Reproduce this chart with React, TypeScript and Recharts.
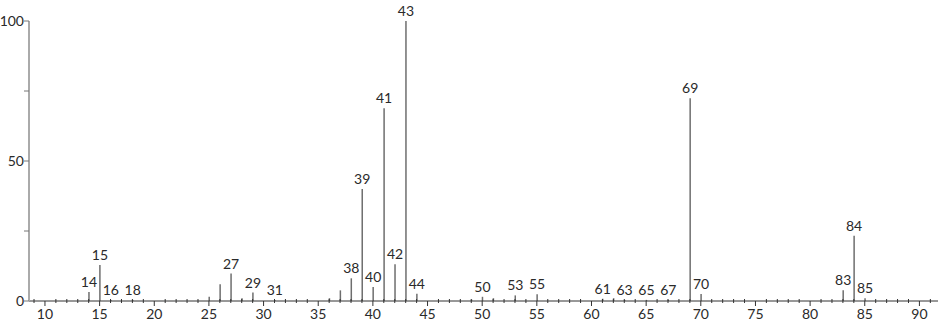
import { ComposedChart, Bar, XAxis, YAxis, LabelList } from "recharts";

// m/z values and relative intensities
const mzValues = [
  14, 15, 16, 18, 25, 26, 27, 28, 29, 31, 36, 37, 38, 39, 40, 41, 42, 43, 44,
  49, 50, 51, 53, 55, 61, 62, 63, 65, 67, 69, 70, 83, 84, 85,
];
const intensities = [
  3.2, 12.9, 0.4, 0.4, 1.5, 6, 9.8, 1, 3, 0.4, 1, 3.8, 8.1, 40, 5, 68.8, 13.1,
  100, 2.6, 0.5, 1.5, 1, 2, 2.4, 0.8, 1, 0.4, 0.4, 0.4, 72.4, 2.5, 3.8, 23.3, 1,
];
const labelled = [
  14, 15, 16, 18, 27, 29, 31, 38, 39, 40, 41, 42, 43, 44, 50, 53, 55, 61, 63,
  65, 67, 69, 70, 83, 84, 85,
];

const xTicks = Array.from({ length: 83 }, (_, i) => 9 + i);
const yTicks = [0, 25, 50, 75, 100];

const FONT = "Lato, sans-serif";
const TEXT = "#2a2a2a";

const data = mzValues.map((mz, i) => ({
  mz,
  intensity: intensities[i],
  label: labelled.includes(mz) ? String(mz) : "",
}));

function XTick(props: any) {
  const { x, y, payload } = props;
  const v = payload.value as number;
  const major = v % 5 === 0;
  return (
    <g>
      {major ? (
        <>
          <line x1={x} x2={x} y1={y} y2={y + 5} stroke="#333" />
          <text
            x={x}
            y={y + 18}
            textAnchor="middle"
            fontFamily={FONT}
            fontSize={14}
            fill={TEXT}
          >
            {v}
          </text>
        </>
      ) : (
        <line x1={x} x2={x} y1={y - 2} y2={y + 2} stroke="#333" />
      )}
    </g>
  );
}

function YTick(props: any) {
  const { x, y, payload } = props;
  const v = payload.value as number;
  return (
    <g>
      <line x1={x - 5} x2={x} y1={y} y2={y} stroke="#777" />
      {v % 50 === 0 && (
        <text
          x={x - 5}
          y={y + 5}
          textAnchor="end"
          fontFamily={FONT}
          fontSize={14}
          fill={TEXT}
        >
          {v}
        </text>
      )}
    </g>
  );
}

function PeakLabel(props: any) {
  const { x, y, width, value } = props;
  if (!value) return null;
  return (
    <text
      x={x + width / 2}
      y={y - 5}
      textAnchor="middle"
      fontFamily={FONT}
      fontSize={14}
      fill={TEXT}
    >
      {value}
    </text>
  );
}

export default function App() {
  return (
    <div style={{ position: "absolute", left: 0, top: 0 }}>
      <ComposedChart
        width={940}
        height={323}
        data={data}
        margin={{ top: 21, right: 2, bottom: 0, left: 0 }}
      >
        <XAxis
          dataKey="mz"
          type="number"
          domain={[8.54, 91.7]}
          ticks={xTicks}
          interval={0}
          allowDataOverflow
          height={22}
          tickSize={0}
          tickMargin={0}
          tickLine={false}
          tick={<XTick />}
          axisLine={{ stroke: "#333", strokeWidth: 1 }}
        />
        <YAxis
          type="number"
          domain={[0, 100]}
          ticks={yTicks}
          interval={0}
          width={29}
          tickSize={0}
          tickMargin={0}
          tickLine={false}
          tick={<YTick />}
          axisLine={{ stroke: "#aaa", strokeWidth: 2 }}
        />
        <Bar
          dataKey="intensity"
          barSize={1.5}
          fill="#6e6e6e"
          isAnimationActive={false}
        >
          <LabelList dataKey="label" content={<PeakLabel />} />
        </Bar>
      </ComposedChart>
    </div>
  );
}
